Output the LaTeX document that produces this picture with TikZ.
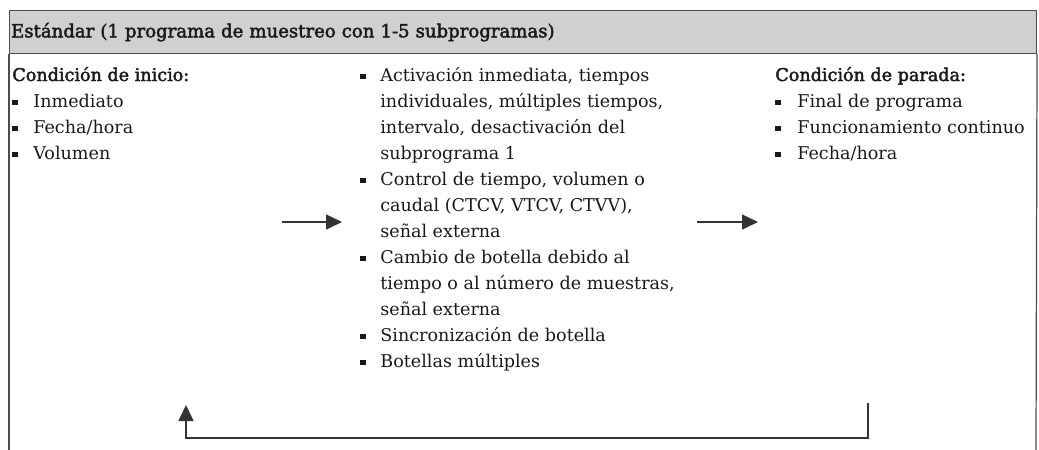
\documentclass[tikz,border=0pt]{standalone}
\usepackage{fontspec}
\setmainfont{DejaVu Serif}
\newfontfamily\semib[FakeBold=2.2]{DejaVu Serif}
\usetikzlibrary{arrows.meta}

\definecolor{headgray}{HTML}{D0D0D0}
\definecolor{rulegray}{HTML}{4D4D4D}

% viñeta cuadrada pequeña
\newcommand{\blt}{\rule[1.0pt]{3.4pt}{3.2pt}}

\begin{document}
\begin{tikzpicture}[x=0.02cm, y=-0.02cm,
  every node/.style={font=\fontsize{10}{14.8}\selectfont, inner sep=0pt, text=black!90},
  frameline/.style={draw=rulegray, line width=0.7pt},
  flow/.style={-{Triangle[length=0.32cm, width=0.3cm]}, draw=black!80, line width=0.9pt},
  colbox/.style={anchor=base west, align=left}]

  \useasboundingbox (0,0) rectangle (1039,450);

  % --- CABECERA ---
  \node[fill=headgray, draw=rulegray, line width=0.7pt, anchor=north west,
        minimum width=20.54cm, minimum height=0.86cm,
        text width=20.48cm, inner xsep=0.03cm, align=left,
        font=\fontsize{10.3}{14.8}\selectfont] (header) at (9,10)
    {\semib Estándar (1 programa de muestreo con 1-5 subprogramas)};

  % Marco abierto hacia abajo
  \draw[frameline] (header.south west) -- (9,450);
  \draw[frameline] (header.south east) -- (1036,450);

  % --- COLUMNAS ---
  % Condición de inicio
  \node[colbox] (startcol) at (12,81) {%
    \begin{tabular}[t]{@{}p{0.42cm}@{}l@{}}
      \multicolumn{2}{@{}l@{}}{\semib Condición de inicio:}\\
      \blt & Inmediato\\
      \blt & Fecha/hora\\
      \blt & Volumen
    \end{tabular}};

  % Subprogramas
  \node[colbox] (subcol) at (360,81) {%
    \begin{tabular}[t]{@{}p{0.4cm}@{}l@{}}
      \blt & Activación inmediata, tiempos\\
           & individuales, múltiples tiempos,\\
           & intervalo, desactivación del\\
           & subprograma 1\\
      \blt & Control de tiempo, volumen o\\
           & caudal (CTCV, VTCV, CTVV),\\
           & señal externa\\
      \blt & Cambio de botella debido al\\
           & tiempo o al número de muestras,\\
           & señal externa\\
      \blt & Sincronización de botella\\
      \blt & Botellas múltiples
    \end{tabular}};

  % Condición de parada
  \node[colbox] (stopcol) at (775,81) {%
    \begin{tabular}[t]{@{}p{0.44cm}@{}l@{}}
      \multicolumn{2}{@{}l@{}}{\semib Condición de parada:}\\
      \blt & Final de programa\\
      \blt & Funcionamiento continuo\\
      \blt & Fecha/hora
    \end{tabular}};

  % --- FLECHAS ---
  \coordinate (a1from) at (282,222);
  \coordinate (a1to)   at (342,222);
  \coordinate (a2from) at (697,222);
  \coordinate (a2to)   at (758,222);
  \draw[flow] (a1from) -- (a1to);
  \draw[flow] (a2from) -- (a2to);

  % Retorno
  \coordinate (loopout)  at (868,403);
  \coordinate (loopbase) at (868,438);
  \coordinate (loopin)   at (186,405);
  \draw[flow] (loopout) -- (loopbase) -| (loopin);

\end{tikzpicture}
\end{document}
